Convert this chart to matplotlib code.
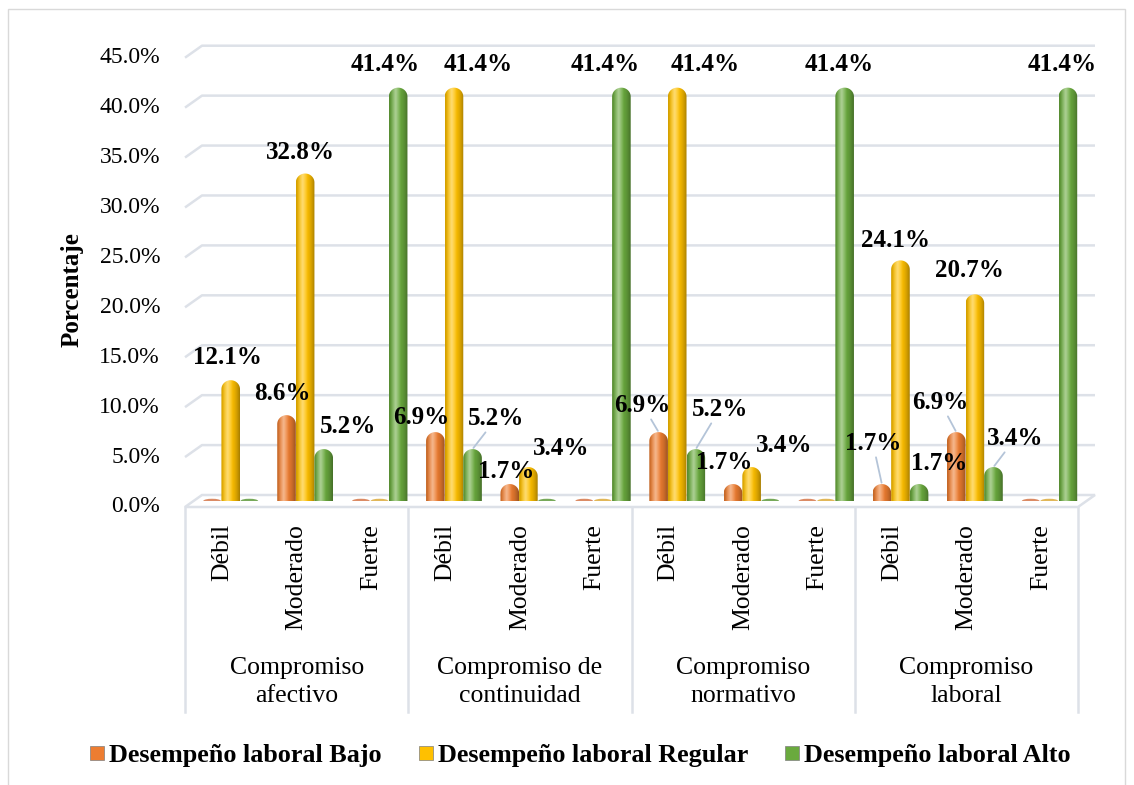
import numpy as np
import matplotlib
matplotlib.use("Agg")
import matplotlib.pyplot as plt
from matplotlib.patches import Polygon, Ellipse, PathPatch, Rectangle
from matplotlib.path import Path
from matplotlib.lines import Line2D
import matplotlib.transforms as mtransforms

plt.rcParams['font.family'] = ['Liberation Serif', 'DejaVu Serif']

# chart data
groups = ['Compromiso\nafectivo', 'Compromiso de\ncontinuidad', 'Compromiso\nnormativo', 'Compromiso\nlaboral']
levels = ['Débil', 'Moderado', 'Fuerte']
series = ['Desempeño laboral Bajo', 'Desempeño laboral Regular', 'Desempeño laboral Alto']
bajo = [0.0, 8.6, 0.0, 6.9, 1.7, 0.0, 6.9, 1.7, 0.0, 1.7, 6.9, 0.0]
regular = [12.1, 32.8, 0.0, 41.4, 3.4, 0.0, 41.4, 3.4, 0.0, 24.1, 20.7, 0.0]
alto = [0.0, 5.2, 41.4, 5.2, 0.0, 41.4, 5.2, 0.0, 41.4, 1.7, 3.4, 41.4]
yticks = [0, 5, 10, 15, 20, 25, 30, 35, 40, 45]

# styling
base_cols = ['#ed7d31', '#ffc000', '#6aaa3e']
disk_cols = ['#d5774a', '#dcab3c', '#5f9a3d']
grid_col = '#dde1e8'
DX, DY = 0.114, 0.60        # half of the 3D depth shift (data units)
BW = 0.25                   # bar width
CAP = 0.9                   # height of the rounded top

# label offsets in pixels (dx, dy, leader line) keyed by (series, category)
label_pos = {
    (1, 0): (-3, 23, False), (0, 1): (-4, 22, False), (1, 1): (-5, 21, False),
    (2, 1): (24, 23, False), (2, 2): (-13, 23, False),
    (0, 3): (-14, 15, False), (1, 3): (24, 23, False), (2, 3): (24, 31, True),
    (0, 4): (-4, 13, False), (1, 4): (33, 19, False), (2, 5): (-16, 23, False),
    (0, 6): (-16, 27, True), (1, 6): (28, 23, False), (2, 6): (24, 40, True),
    (0, 7): (-9, 22, False), (1, 7): (33, 22, False), (2, 8): (-5, 23, False),
    (0, 9): (-9, 41, True), (1, 9): (-5, 20, False), (2, 9): (20, 21, False),
    (0, 10): (-16, 30, True), (1, 10): (-5, 24, False), (2, 10): (22, 29, True),
    (2, 11): (-6, 23, False),
}


def cylinder_gradient(hexcol, n=64):
    base = np.array(matplotlib.colors.to_rgb(hexcol))
    t = np.linspace(0, 1, n)
    dark = 0.35 * (np.abs(t - 0.42) / 0.58) ** 2
    light = 0.45 * np.clip(1 - np.abs(t - 0.35) / 0.28, 0, 1)
    col = base[None, :] * (1 - dark[:, None])
    col = col + (1 - col) * light[:, None]
    return col[None, :, :]


def capsule(xc, h):
    x0, x1 = xc - BW / 2, xc + BW / 2
    r = min(CAP, h)
    th = np.linspace(np.pi, 0, 30)
    verts = [(x0, 0), (x0, h - r)]
    verts += list(zip(xc + BW / 2 * np.cos(th), h - r + r * np.sin(th)))
    verts += [(x1, 0), (x0, 0)]
    codes = [Path.MOVETO] + [Path.LINETO] * (len(verts) - 2) + [Path.CLOSEPOLY]
    return Path(verts, codes)


fig = plt.figure(figsize=(11.34, 7.85), dpi=100)
ax = fig.add_axes([193.5 / 1134, 1 - 501 / 785, 893 / 1134, 449.3 / 785])
ax.axis('off')

x = np.arange(len(bajo))
x0, x1 = -0.5, len(bajo) - 0.5

# back wall gridlines with the small 3D side wall
for v in yticks:
    if v > 0:
        ax.plot([x0 - DX, x0 + DX, x1 + DX], [v - DY, v + DY, v + DY],
                color=grid_col, lw=1.8, zorder=1, clip_on=False, solid_capstyle='butt')
    ax.annotate(f'{v:.1f}%', xy=(x0 - DX, v - DY), xytext=(-25, 0),
                textcoords='offset pixels', ha='right', va='center', fontsize=17,
                annotation_clip=False)

# floor
floor = Polygon([(x0 - DX, -DY), (x1 - DX, -DY), (x1 + DX, DY), (x0 + DX, DY)],
                closed=True, fc='white', ec=grid_col, lw=1.8, zorder=1, clip_on=False)
ax.add_patch(floor)

# bars
for s, vals in enumerate([bajo, regular, alto]):
    grad = cylinder_gradient(base_cols[s])
    for i, v in enumerate(vals):
        xc = x[i] + (s - 1) * BW
        if v <= 0:
            ax.add_patch(Ellipse((xc, 0), BW * 0.95, 0.45, fc=disk_cols[s], ec='none',
                                 alpha=0.85, zorder=2))
            continue
        patch = PathPatch(capsule(xc, v), fc='none', ec='none', transform=ax.transData)
        ax.add_patch(patch)
        im = ax.imshow(grad, extent=[xc - BW / 2, xc + BW / 2, 0, v], aspect='auto',
                       interpolation='bilinear', zorder=3)
        im.set_clip_path(patch)
        dx, dy, leader = label_pos[(s, i)]
        arrow = dict(arrowstyle='-', color='#b4c4d8', lw=1.3, shrinkA=0, shrinkB=1) if leader else None
        ax.annotate(f'{v:.1f}%', xy=(xc, v), xytext=(dx, dy), textcoords='offset pixels',
                    ha='center', va='center', fontsize=18, fontweight='bold',
                    arrowprops=arrow, zorder=6, annotation_clip=False)

ax.set_xlim(x0, x1)
ax.set_ylim(0, 45)

# category axis box
blend = mtransforms.blended_transform_factory(ax.transData, fig.transFigure)
y_top, y_bot = 1 - 507 / 785, 1 - 712 / 785
for k in range(len(groups) + 1):
    ax.plot([x0 - DX + 3 * k] * 2, [y_top, y_bot], color=grid_col, lw=1.8,
            transform=blend, clip_on=False, zorder=1)
for i in x:
    ax.text(i - DX, 1 - 524 / 785, levels[i % 3], rotation=90, ha='center', va='top',
            fontsize=18.5, transform=blend)
for g, name in enumerate(groups):
    ax.text(3 * g + 1 - DX, 1 - 682 / 785, name, ha='center', va='center',
            fontsize=18.5, linespacing=1.38, transform=blend)

fig.text(72 / 1134, 1 - 290 / 785, 'Porcentaje', rotation=90, ha='center', va='center',
         fontsize=18, fontweight='bold')

handles = [Line2D([], [], ls='', marker='s', markersize=10, color=c,
                  markeredgecolor='#7f7f7f', markeredgewidth=0.5) for c in base_cols]
fig.legend(handles, series, loc='center', bbox_to_anchor=(580 / 1134, 1 - 755 / 785),
           ncol=3, frameon=False, handlelength=0.6, handletextpad=0.15,
           columnspacing=1.4, prop={'size': 18.8, 'weight': 'bold'})

fig.patches.append(Rectangle((8 / 1134, -0.02), 1117 / 1134, 1.02 - 9 / 785,
                             transform=fig.transFigure, fill=False, ec='#d9d9d9', lw=1))

fig.savefig('out.png', dpi=100)
